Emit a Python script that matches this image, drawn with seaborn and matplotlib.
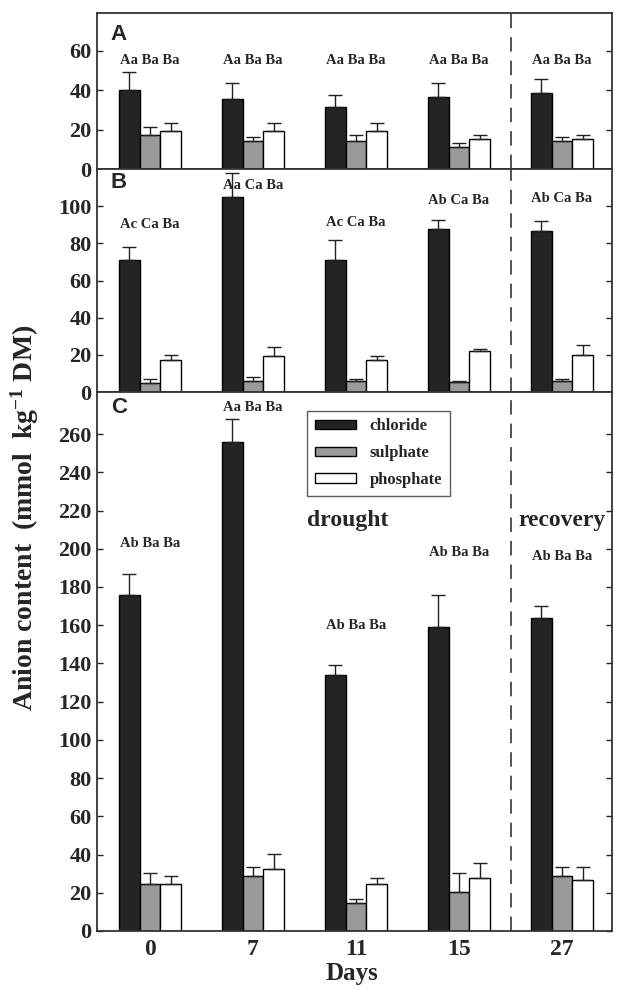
import numpy as np
import pandas as pd
import matplotlib
matplotlib.use("Agg")
import matplotlib.pyplot as plt
import seaborn as sns

days = ["0", "7", "11", "15", "27"]
anions = ["chloride", "sulphate", "phosphate"]

# panel A
a_chl = [40, 35.5, 31.5, 36.5, 38.5]
a_chl_err = [9, 8.3, 6, 7.3, 7.3]
a_sul = [17.3, 14.2, 14.2, 11.3, 14.2]
a_sul_err = [4, 2.2, 3.1, 2.1, 2.2]
a_pho = [19.4, 19.4, 19.4, 15.4, 15.4]
a_pho_err = [4, 4, 4, 1.9, 1.9]
a_labels = ["Aa Ba Ba", "Aa Ba Ba", "Aa Ba Ba", "Aa Ba Ba", "Aa Ba Ba"]
a_label_y = [55, 55, 55, 55, 55]

# panel B
b_chl = [71, 105, 71, 88, 86.7]
b_chl_err = [6.8, 13, 11, 4.8, 5.2]
b_sul = [5, 6, 6, 5.5, 6]
b_sul_err = [2, 2, 1, 0.5, 1]
b_pho = [17.2, 19.2, 17.2, 22, 20]
b_pho_err = [2.8, 4.8, 2, 1, 5.2]
b_labels = ["Ac Ca Ba", "Aa Ca Ba", "Ac Ca Ba", "Ab Ca Ba", "Ab Ca Ba"]
b_label_y = [90, 111, 91, 103, 104]

# panel C
c_chl = [176, 256, 134, 159, 164]
c_chl_err = [11, 12, 5, 17, 6]
c_sul = [24.6, 28.6, 14.9, 20.5, 28.6]
c_sul_err = [6, 5, 1.8, 10, 5]
c_pho = [24.6, 32.4, 24.6, 27.7, 26.6]
c_pho_err = [4, 7.7, 3.1, 7.9, 7]
c_labels = ["Ab Ba Ba", "Aa Ba Ba", "Ab Ba Ba", "Ab Ba Ba", "Ab Ba Ba"]
c_label_y = [203, 274, 160, 198, 196]

panels = {
    "A": ([a_chl, a_sul, a_pho], [a_chl_err, a_sul_err, a_pho_err], a_labels, a_label_y),
    "B": ([b_chl, b_sul, b_pho], [b_chl_err, b_sul_err, b_pho_err], b_labels, b_label_y),
    "C": ([c_chl, c_sul, c_pho], [c_chl_err, c_sul_err, c_pho_err], c_labels, c_label_y),
}
ylims = {"A": 79, "B": 120, "C": 282}
yticks = {"A": range(0, 61, 20), "B": range(0, 101, 20), "C": range(0, 261, 20)}
# axes rectangles in figure fraction
rects = {
    "A": [0.1552, 0.8296, 0.824, 0.1573],
    "B": [0.1552, 0.6048, 0.824, 0.2248],
    "C": [0.1552, 0.0615, 0.824, 0.5433],
}
letter_y = {"A": 0.93, "B": 0.985, "C": 0.99}

palette = {"chloride": "#242424", "sulphate": "#9a9a9a", "phosphate": "white"}

sns.set_style("white")
plt.rcParams["font.family"] = ["Liberation Serif", "DejaVu Serif"]
plt.rcParams["font.weight"] = "bold"
plt.rcParams["mathtext.fontset"] = "custom"
plt.rcParams["mathtext.rm"] = "Liberation Serif:bold"
plt.rcParams["mathtext.default"] = "rm"

fig = plt.figure(figsize=(6.25, 9.92), dpi=100)

for name, (vals, errs, labels, label_y) in panels.items():
    ax = fig.add_axes(rects[name])
    rows = []
    for anion, v in zip(anions, vals):
        for d, y in zip(days, v):
            rows.append({"day": d, "anion": anion, "value": y})
    df = pd.DataFrame(rows)

    sns.barplot(
        data=df, x="day", y="value", hue="anion", order=days, hue_order=anions,
        palette=palette, width=0.6, edgecolor="black", linewidth=1.0,
        errorbar=None, legend=False, ax=ax, zorder=2,
    )
    bar_conts = list(ax.containers)

    # one-sided error bars on top of each bar
    for cont, err in zip(bar_conts, errs):
        xs = [p.get_x() + p.get_width() / 2 for p in cont.patches]
        hs = [p.get_height() for p in cont.patches]
        ax.errorbar(xs, hs, yerr=[np.zeros(len(err)), err], fmt="none",
                    ecolor="#222222", elinewidth=1.0, capsize=5, capthick=1.0, zorder=3)

    for i, (lab, y) in enumerate(zip(labels, label_y)):
        ax.text(i, y, lab, ha="center", va="center", fontsize=10.5, fontweight="bold")

    ax.axvline(3.5, color="#444444", lw=1.3, ls=(0, (8, 5)), zorder=1)
    ax.set_xlim(-0.515, 4.485)
    ax.set_ylim(0, ylims[name])
    ax.set_yticks(list(yticks[name]))
    ax.set_xlabel("")
    ax.set_ylabel("")
    ax.tick_params(axis="y", direction="in", length=4, width=1, labelsize=16,
                   right=True, left=True, pad=4)
    ax.tick_params(axis="x", length=0, labelsize=17, pad=6)
    for lab in ax.get_yticklabels() + ax.get_xticklabels():
        lab.set_fontweight("bold")
    if name != "C":
        ax.set_xticklabels([])
    for sp in ax.spines.values():
        sp.set_visible(True)
        sp.set_linewidth(1.3)
        sp.set_color("#333333")

    ax.text(0.027, letter_y[name], name, transform=ax.transAxes, ha="left", va="top",
            fontsize=16, fontweight="bold", family="Liberation Sans")

    if name == "C":
        handles = [c.patches[0] for c in bar_conts]
        leg = ax.legend(handles, anions, loc="upper left", bbox_to_anchor=(0.408, 0.965),
                        borderaxespad=0, frameon=True, fancybox=False, edgecolor="#333333",
                        fontsize=12, handlelength=2.5, handleheight=0.5, labelspacing=0.65,
                        borderpad=0.45, handletextpad=0.8)
        leg.get_frame().set_linewidth(1.0)
        for t in leg.get_texts():
            t.set_fontweight("bold")
        ax.text(1.92, 215, "drought", ha="center", va="center", fontsize=17, fontweight="bold")
        ax.text(4.0, 215, "recovery", ha="center", va="center", fontsize=17, fontweight="bold")

fig.text(0.04, 0.478, "Anion content  (mmol  kg$^{-1}$ DM)", rotation=90,
         ha="center", va="center", fontsize=20, fontweight="bold")
fig.text(0.563, 0.012, "Days", ha="center", va="baseline", fontsize=18, fontweight="bold")

fig.savefig("out.png", dpi=100)
